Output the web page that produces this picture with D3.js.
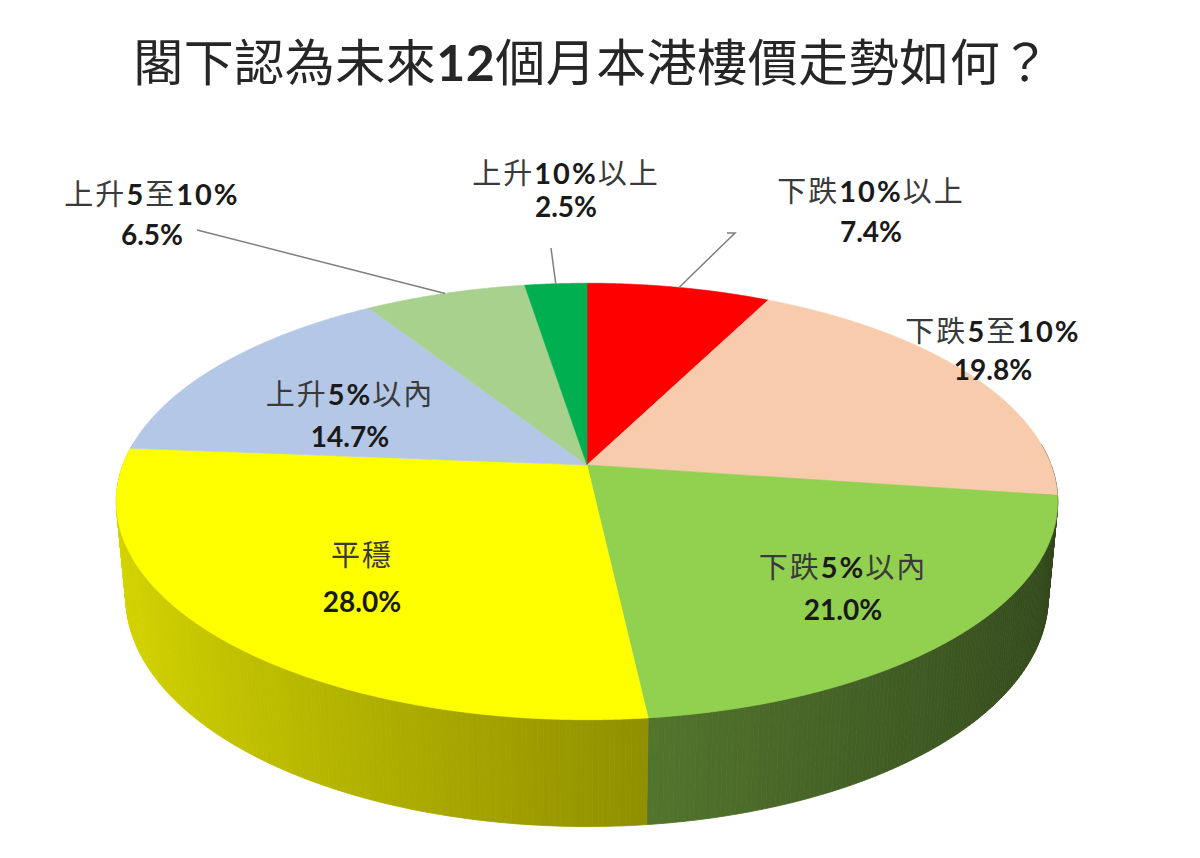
<!DOCTYPE html>
<meta charset="utf-8">
<style>
body { margin: 0; background: #fff; }
text { font-family: Lato, "Noto Sans CJK TC", sans-serif; }
</style>
<svg id="mysvg" width="1200" height="858"></svg>
<script src="https://cdn.jsdelivr.net/npm/d3@7/dist/d3.min.js"></script>
<script>

var title = "閣下認為未來12個月本港樓價走勢如何？";
var categories = ["下跌10%以上", "下跌5至10%", "下跌5%以內", "平穩", "上升5%以內", "上升5至10%", "上升10%以上"];
var values = [7.4, 19.8, 21.0, 28.0, 14.7, 6.5, 2.5];
var colors = ["#ff0000", "#f8cbad", "#92d050", "#ffff00", "#b4c7e7", "#a9d18e", "#00b050"];

// label layout: centre x, baseline of name, baseline of value
var labelPos = [[871, 202, 242], [993, 342, 380], [843, 578, 620], [362, 566, 612],
                [350, 405, 447], [152, 205, 245], [566, 184, 217]];
// leader lines for the outside labels: start points near the text
var leaders = [[0, [[727, 233], [735, 233]]], [5, [[197, 230]]], [6, [[551, 248]]]];

var svg = d3.select("#mysvg");

// perspective camera for the tilted disk
var cx = 587, cy = 465;
var tilt = 27.2 * Math.PI / 180;
var D = 5.32, f = 2469, h = 0.233;

function proj(a, r, bottom) {
	var X = r * Math.sin(a), Z = r * Math.cos(a), Y = bottom ? -h : 0;
	var d = D + Z * Math.cos(tilt) - Y * Math.sin(tilt);
	var v = Y * Math.cos(tilt) + Z * Math.sin(tilt);
	return [cx + f * X / d, cy - f * v / d, d];
}

var pie = d3.pie().sort(null).value(function(d){ return d; });
var arcs = pie(values);

var line = d3.line();

// side walls, cut in thin pieces so shading follows the angle
var pieces = [];
arcs.forEach(function(s, i){
	var n = Math.max(2, Math.ceil((s.endAngle - s.startAngle) / 0.01));
	for (var k = 0; k < n; k++) {
		var a0 = s.startAngle + (s.endAngle - s.startAngle) * k / n;
		var a1 = s.startAngle + (s.endAngle - s.startAngle) * (k + 1) / n;
		var am = (a0 + a1) / 2;
		if (Math.cos(am) > 0.1) continue;
		var shade = 0.59 - 0.25 * Math.sin(am);
		var c = d3.rgb(colors[i]);
		var col = d3.rgb(c.r * shade, c.g * shade, c.b * shade);
		pieces.push({
			pts: [proj(a0, 1, false), proj(a1, 1, false), proj(a1, 1, true), proj(a0, 1, true)],
			depth: proj(am, 1, false)[2],
			color: col.toString()
		});
	}
});
pieces.sort(function(a, b){ return b.depth - a.depth; });

svg.append("g").selectAll("path")
	.data(pieces)
	.enter().append("path")
	.attr("d", function(p){ return line(p.pts.map(function(q){ return [q[0], q[1]]; })) + "Z"; })
	.attr("fill", function(p){ return p.color; })
	.attr("stroke", function(p){ return p.color; })
	.attr("stroke-width", 0.8);

// top faces
svg.append("g").selectAll("path")
	.data(arcs)
	.enter().append("path")
	.attr("d", function(s){
		var pts = [proj(0, 0, false)];
		var n = Math.ceil((s.endAngle - s.startAngle) / 0.005);
		for (var k = 0; k <= n; k++) {
			pts.push(proj(s.startAngle + (s.endAngle - s.startAngle) * k / n, 1, false));
		}
		return line(pts.map(function(q){ return [q[0], q[1]]; })) + "Z";
	})
	.attr("fill", function(s, i){ return colors[i]; })
	.attr("stroke", function(s, i){ return colors[i]; })
	.attr("stroke-width", 0.6);

// leader lines
svg.append("g").selectAll("path")
	.data(leaders)
	.enter().append("path")
	.attr("d", function(l){
		var s = arcs[l[0]];
		var e = proj((s.startAngle + s.endAngle) / 2, 1, false);
		return line(l[1].concat([[e[0], e[1]]]));
	})
	.attr("fill", "none")
	.attr("stroke", "#7f7f7f")
	.attr("stroke-width", 1.5);

// text helper: digits and % bold, CJK regular
function runs(sel, str) {
	str.split(/([0-9.%]+)/).filter(function(t){ return t.length; }).forEach(function(t){
		var num = /^[0-9.%]+$/.test(t);
		sel.append("tspan")
			.attr("font-weight", num ? 700 : 400)
			.attr("fill", num ? "#1a1a1a" : "#3a3a3a")
			.text(t);
	});
}

var lab = svg.append("g").selectAll("g")
	.data(categories)
	.enter().append("g");

lab.append("text")
	.attr("x", function(d, i){ return labelPos[i][0]; })
	.attr("y", function(d, i){ return labelPos[i][1]; })
	.attr("text-anchor", "middle")
	.attr("font-size", 29)
	.attr("letter-spacing", 2)
	.each(function(d){ runs(d3.select(this), d); });

lab.append("text")
	.attr("x", function(d, i){ return labelPos[i][0]; })
	.attr("y", function(d, i){ return labelPos[i][2]; })
	.attr("text-anchor", "middle")
	.attr("font-size", 28)
	.attr("font-weight", 700)
	.attr("fill", "#1a1a1a")
	.text(function(d, i){ return values[i].toFixed(1) + "%"; });

var t = svg.append("text")
	.attr("x", 592)
	.attr("y", 81)
	.attr("text-anchor", "middle")
	.attr("font-size", 50)
	.attr("letter-spacing", 0.5);
runs(t, title);
t.selectAll("tspan").attr("fill", "#262626");

</script>
